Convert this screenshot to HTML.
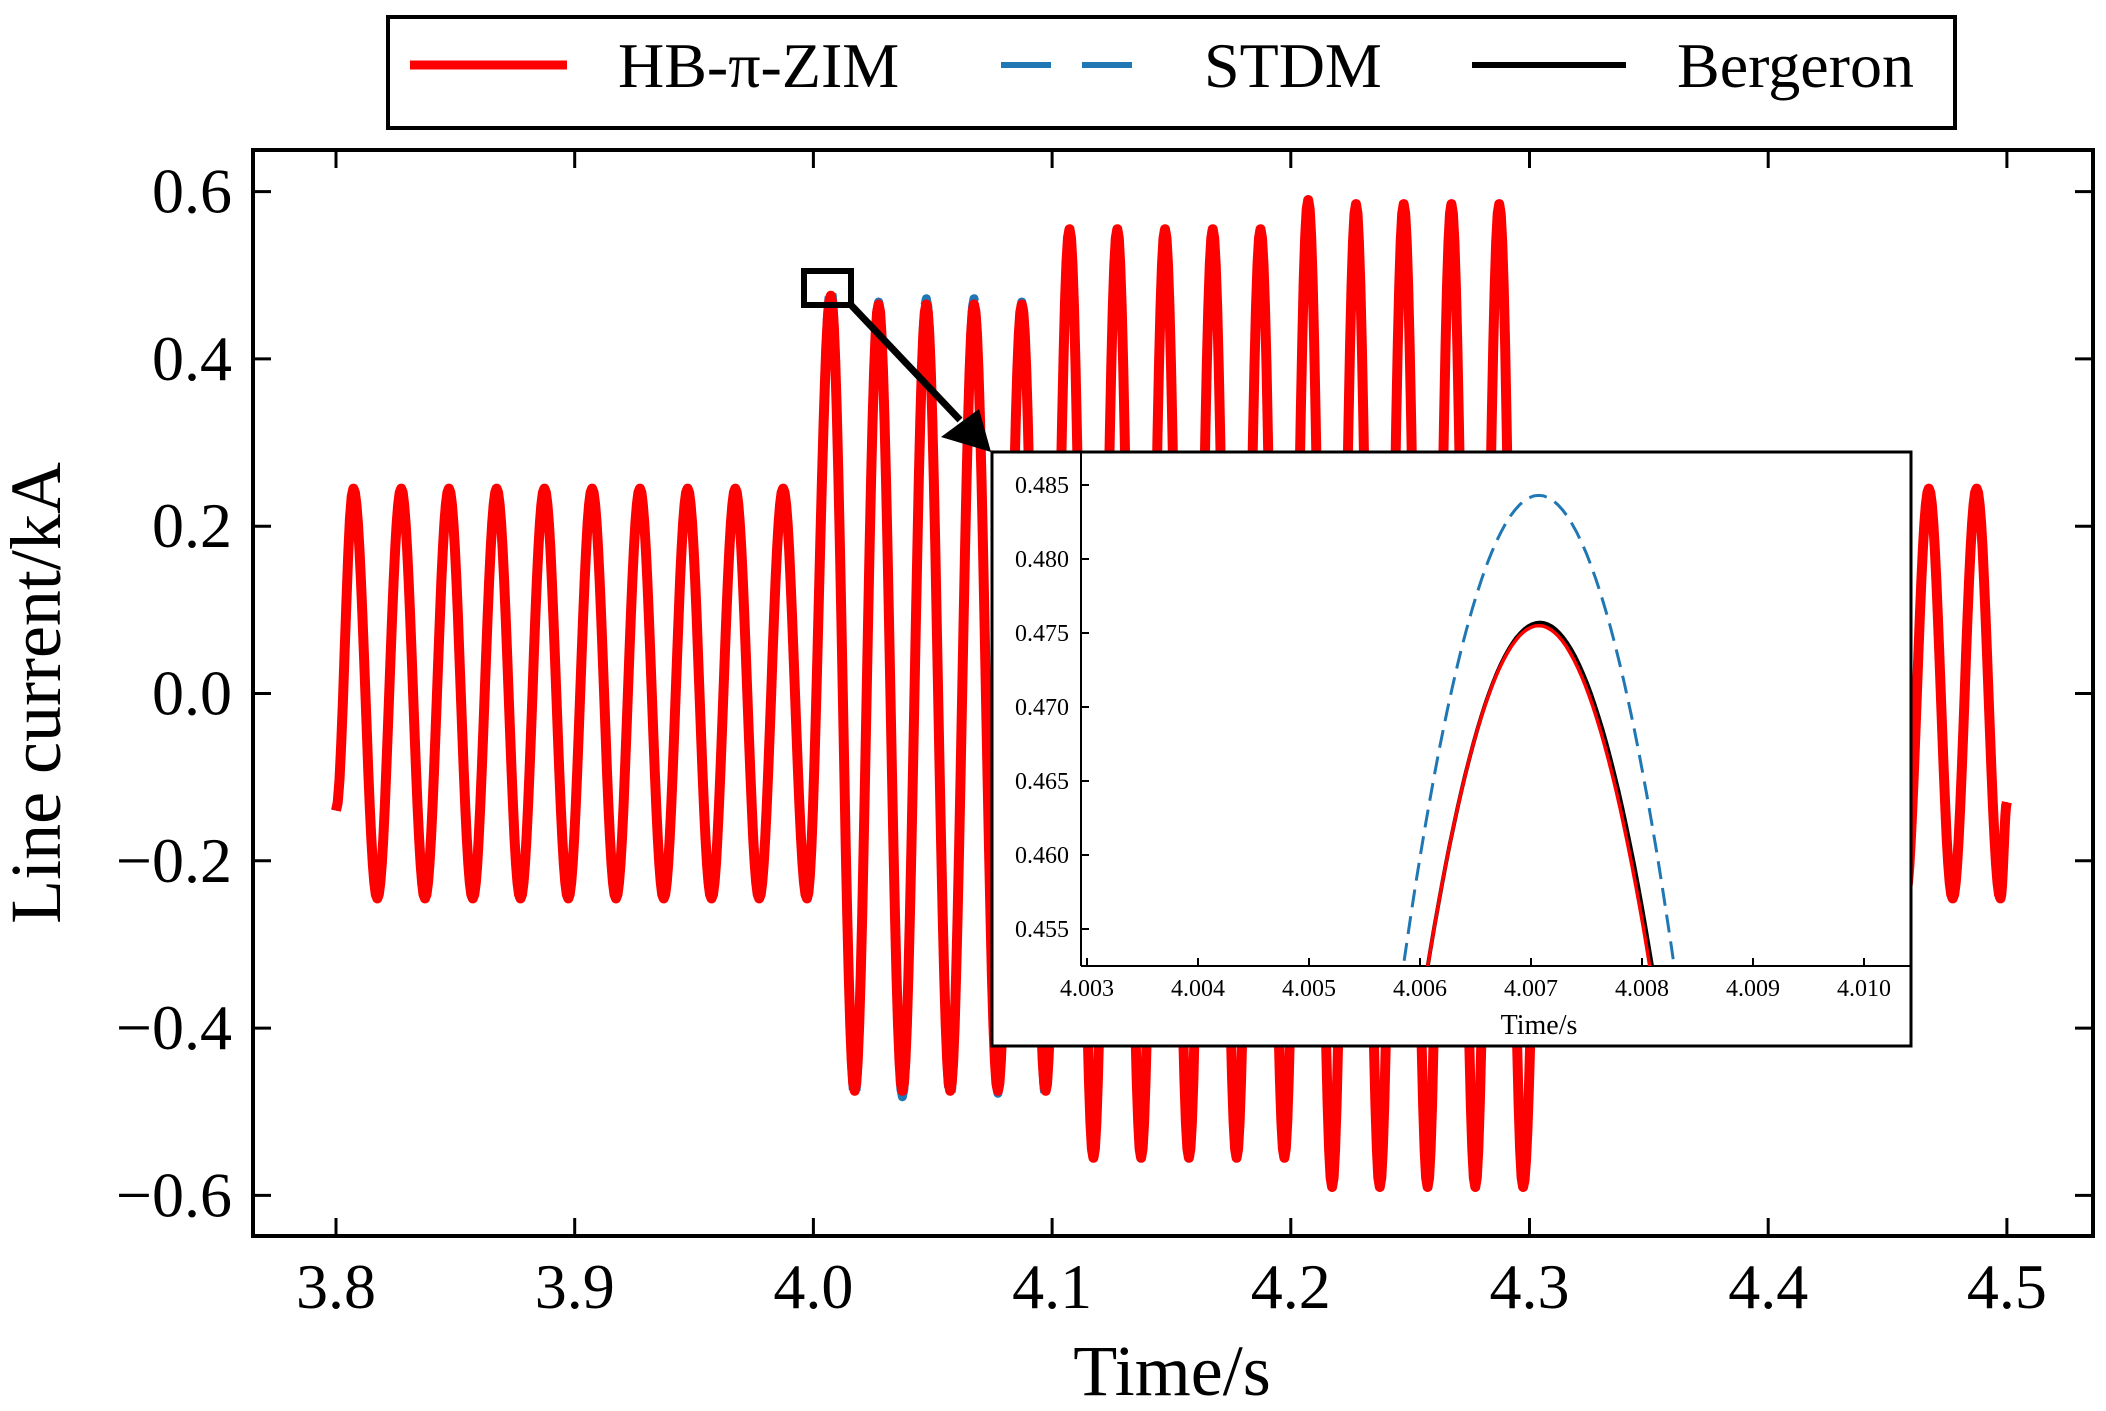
<!DOCTYPE html>
<html><head><meta charset="utf-8"><style>
html,body{margin:0;padding:0;background:#fff}
svg{display:block;font-family:"Liberation Serif",serif}
</style></head><body>
<svg id="c" width="2106" height="1411" viewBox="0 0 2106 1411" xmlns="http://www.w3.org/2000/svg">
<defs><clipPath id="mainclip"><rect x="253" y="150" width="1840" height="1086"/></clipPath>
<clipPath id="insclip"><rect x="1081" y="452" width="829" height="514"/></clipPath></defs>
<g id="main"></g>
<g id="inset"></g>
<g id="legend"></g>
</svg>
<script>
// ---- data ----
const xTicks = [3.8, 3.9, 4.0, 4.1, 4.2, 4.3, 4.4, 4.5];
const yTicks = [-0.6, -0.4, -0.2, 0.0, 0.2, 0.4, 0.6];
const firstPeakTime = 3.8073;
const period = 0.02;
const startValue = -0.14;
const endValue = -0.13;
const zimPeaks = [0.245,0.245,0.245,0.245,0.245,0.245,0.245,0.245,0.245,0.245,
  0.4755,0.465,0.465,0.465,0.465, 0.555,0.555,0.555,0.555,0.555,
  0.59,0.585,0.585,0.585,0.585, 0.245,0.245,0.245,0.245,0.245,0.245,0.245,0.245,0.245,0.245];
const zimTroughs = [-0.245,-0.245,-0.245,-0.245,-0.245,-0.245,-0.245,-0.245,-0.245,-0.245,
  -0.475,-0.475,-0.475,-0.475,-0.475, -0.555,-0.555,-0.555,-0.555,-0.555,
  -0.59,-0.59,-0.59,-0.59,-0.59, -0.245,-0.245,-0.245,-0.245,-0.245,-0.245,-0.245,-0.245,-0.245,-0.245];
const stdmPeaks = [0.245,0.245,0.245,0.245,0.245,0.245,0.245,0.245,0.245,0.245,
  0.4843,0.468,0.472,0.472,0.468, 0.555,0.555,0.555,0.555,0.555,
  0.59,0.585,0.585,0.585,0.585, 0.245,0.245,0.245,0.245,0.245,0.245,0.245,0.245,0.245,0.245];
const stdmTroughs = [-0.245,-0.245,-0.245,-0.245,-0.245,-0.245,-0.245,-0.245,-0.245,-0.245,
  -0.482,-0.482,-0.482,-0.478,-0.482, -0.555,-0.555,-0.555,-0.555,-0.555,
  -0.59,-0.59,-0.59,-0.59,-0.59, -0.245,-0.245,-0.245,-0.245,-0.245,-0.245,-0.245,-0.245,-0.245,-0.245];
// inset data
const insXTicks = [4.003,4.004,4.005,4.006,4.007,4.008,4.009,4.010];
const insYTicks = [0.455,0.460,0.465,0.470,0.475,0.480,0.485];
const insPeakTime = [4.00707, 4.00707, 4.00708];
const insPeakVal = [0.4755, 0.4843, 0.4757];           // HB-pi-ZIM, STDM, Bergeron
const insHalfWidthAtBase = [0.00100, 0.00122, 0.00101]; // half-width where curve hits 0.4525
const insBase = 0.4525;

const NS = "http://www.w3.org/2000/svg";
function mk(tag, attrs, parent){const e=document.createElementNS(NS,tag);for(const k in attrs)e.setAttribute(k,attrs[k]);parent.appendChild(e);return e;}
const X = t => 336 + (t-3.8)/0.1*238.7;
const Y = v => 693.5 - v/0.2*167.3;

const main = document.getElementById('main');
function series(peaks, troughs){
  const ext=[];
  for(let k=0;k<peaks.length;k++){ext.push([firstPeakTime+k*period,peaks[k]]);ext.push([firstPeakTime+k*period+period/2,troughs[k]]);}
  const pts=[];
  const s0=3.8, e0=ext[0][0];
  for(let i=0;i<=10;i++){const f=i/10;const t=s0+(e0-s0)*f;const v=startValue+(ext[0][1]-startValue)*(1-Math.cos(Math.PI*f))/2;pts.push([t,v]);}
  for(let j=0;j<ext.length-1;j++){
    const [t0,v0]=ext[j],[t1,v1]=ext[j+1];
    for(let i=1;i<=16;i++){const f=i/16;pts.push([t0+(t1-t0)*f, v0+(v1-v0)*(1-Math.cos(Math.PI*f))/2]);}
  }
  const last=ext[ext.length-1];
  for(let i=1;i<=8;i++){const f=i/8;pts.push([last[0]+(4.5-last[0])*f,last[1]+(endValue-last[1])*(1-Math.cos(Math.PI*f))/2]);}
  return pts.map(p=>X(p[0]).toFixed(1)+','+Y(p[1]).toFixed(1)).join(' ');
}
const g=mk('g',{'clip-path':'url(#mainclip)'},main);
let el=mk('polyline',{points:series(zimPeaks,zimTroughs),fill:'none',stroke:'#000','stroke-width':3,'stroke-linejoin':'round'},g);

el=mk('polyline',{points:series(stdmPeaks,stdmTroughs),fill:'none',stroke:'#1f77b4','stroke-width':9,'stroke-dasharray':'40,14','stroke-linejoin':'round'},g);

el=mk('polyline',{points:series(zimPeaks,zimTroughs),fill:'none',stroke:'#ff0000','stroke-width':10,'stroke-linejoin':'round'},g);


el=mk('rect',{x:253,y:150,width:1840,height:1086,fill:'none',stroke:'#000','stroke-width':4},main);

xTicks.forEach(t=>{const x=X(t);
  mk('line',{x1:x,y1:1236,x2:x,y2:1218,stroke:'#000','stroke-width':3},main);
  mk('line',{x1:x,y1:150,x2:x,y2:168,stroke:'#000','stroke-width':3},main);
  const tx=mk('text',{x:x,y:1308,'font-size':64,'text-anchor':'middle',fill:'#000'},main);
  tx.textContent=t.toFixed(1);
  
});
yTicks.forEach(v=>{const y=Y(v);
  mk('line',{x1:253,y1:y,x2:271,y2:y,stroke:'#000','stroke-width':3},main);
  mk('line',{x1:2093,y1:y,x2:2075,y2:y,stroke:'#000','stroke-width':3},main);
  const tx=mk('text',{x:232,y:y+21,'font-size':64,'text-anchor':'end',fill:'#000'},main);
  tx.textContent=(v<0?'\u2212':'')+Math.abs(v).toFixed(1);
  
});
el=mk('text',{x:1172,y:1395,'font-size':72,'text-anchor':'middle',fill:'#000'},main);el.textContent='Time/s';

el=mk('text',{x:0,y:0,'font-size':72,'text-anchor':'middle',fill:'#000',transform:'translate(60,693) rotate(-90)'},main);el.textContent='Line current/kA';

el=mk('rect',{x:804,y:271,width:47,height:34,fill:'none',stroke:'#000','stroke-width':6},main);

el=mk('line',{x1:851,y1:305,x2:960,y2:420,stroke:'#000','stroke-width':7},main);

mk('polygon',{points:'991,452 941,437 979,409',fill:'#000'},main);

const ins=document.getElementById('inset');
const IX=t=>1087+(t-4.003)/0.001*111;
const IY=v=>929-(v-0.455)/0.005*74;
el=mk('rect',{x:992,y:452,width:919,height:594,fill:'#fff',stroke:'#000','stroke-width':3},ins);

mk('line',{x1:1081,y1:452,x2:1081,y2:966,stroke:'#000','stroke-width':2},ins);
mk('line',{x1:1081,y1:966,x2:1911,y2:966,stroke:'#000','stroke-width':2},ins);
insXTicks.forEach(t=>{const x=IX(t);mk('line',{x1:x,y1:966,x2:x,y2:958,stroke:'#000','stroke-width':2},ins);
  const tx=mk('text',{x:x,y:996,'font-size':24,'text-anchor':'middle',fill:'#000'},ins);tx.textContent=t.toFixed(3);
  });
insYTicks.forEach(v=>{const y=IY(v);mk('line',{x1:1081,y1:y,x2:1089,y2:y,stroke:'#000','stroke-width':2},ins);
  const tx=mk('text',{x:1069,y:y+8,'font-size':24,'text-anchor':'end',fill:'#000'},ins);tx.textContent=v.toFixed(3);
  });
el=mk('text',{x:1539,y:1034,'font-size':28,'text-anchor':'middle',fill:'#000'},ins);el.textContent='Time/s';

const ig=mk('g',{'clip-path':'url(#insclip)'},ins);
function parab(i){const pts=[];const hw=insHalfWidthAtBase[i]*1.05;
  for(let j=0;j<=60;j++){const t=insPeakTime[i]-hw+2*hw*j/60;const d=(t-insPeakTime[i])/insHalfWidthAtBase[i];
    const v=insPeakVal[i]-(insPeakVal[i]-insBase)*d*d;pts.push(IX(t).toFixed(1)+','+IY(v).toFixed(1));}
  return pts.join(' ');}
el=mk('polyline',{points:parab(1),fill:'none',stroke:'#1f77b4','stroke-width':3,'stroke-dasharray':'18,9'},ig);

el=mk('polyline',{points:parab(2),fill:'none',stroke:'#000','stroke-width':4},ig);

el=mk('polyline',{points:parab(0),fill:'none',stroke:'#ff0000','stroke-width':3.5},ig);


const lg=document.getElementById('legend');
mk('rect',{x:388,y:17,width:1567,height:111,fill:'#fff',stroke:'#000','stroke-width':4},lg);
mk('line',{x1:410,y1:65,x2:567,y2:65,stroke:'#ff0000','stroke-width':9},lg);
mk('line',{x1:1001,y1:65,x2:1132,y2:65,stroke:'#1f77b4','stroke-width':6,'stroke-dasharray':'50,31'},lg);
mk('line',{x1:1472,y1:65,x2:1626,y2:65,stroke:'#000','stroke-width':6},lg);
[['HB-\u03c0-ZIM',618,'legend-entry-hb-pi-zim'],['STDM',1204,'legend-entry-stdm'],['Bergeron',1677,'legend-entry-bergeron']].forEach(a=>{
  const tx=mk('text',{x:a[1],y:87,'font-size':64,fill:'#000'},lg);tx.textContent=a[0];
  });
</script>
</body></html>
